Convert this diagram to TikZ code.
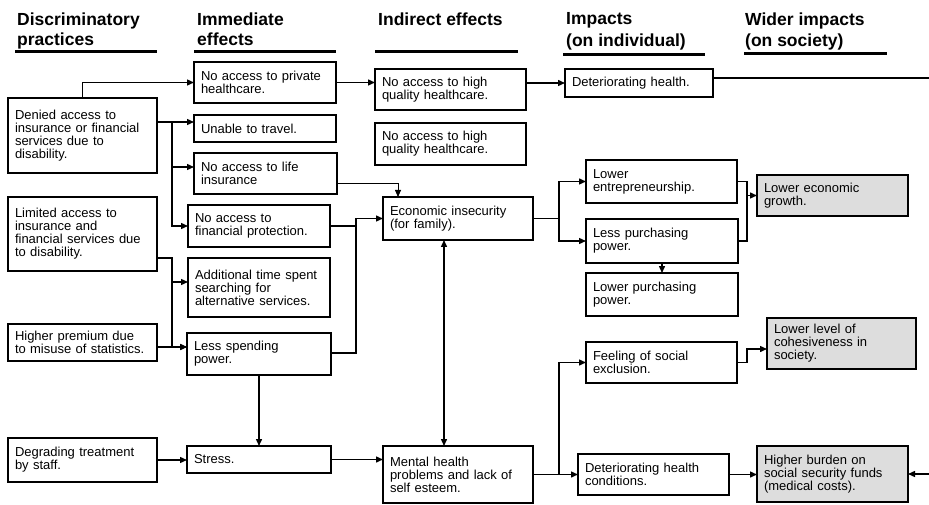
\documentclass[tikz,border=0pt]{standalone}
\usepackage{fontspec}
\setmainfont{Liberation Sans}
\usetikzlibrary{arrows.meta}

\begin{document}
\begin{tikzpicture}[x=1pt,y=-1pt,
  box/.style={draw, line width=1.4pt, anchor=north west, outer sep=0pt,
    inner xsep=7pt, inner ysep=2pt, align=left,
    font=\fontsize{13}{13}\selectfont},
  widerbox/.style={box, fill=gray!27},
  hd/.style={anchor=north west, inner sep=0pt, align=left,
    font=\fontsize{17.5}{20}\selectfont\bfseries},
  headrule/.style={line width=3pt},
  ln/.style={line width=1.4pt},
  arr/.style={line width=1.4pt, -{Triangle[length=7pt,width=6pt]}},
  faintarr/.style={line width=0.8pt, -{Triangle[length=7pt,width=6pt]}},
  dblarr/.style={line width=1.4pt, {Triangle[length=7pt,width=6pt]}-{Triangle[length=7pt,width=6pt]}}]

\useasboundingbox (0,0) rectangle (929,505);

% column headings
\node[hd] (h1) at (17,12.5) {Discriminatory\\practices};
\node[hd] (h2) at (197,12.5) {Immediate\\effects};
\node[hd] (h3) at (378,12.5) {Indirect effects};
\node[hd] (h4) at (566,12.5) {Impacts\\[2pt](on individual)};
\node[hd] (h5) at (745,12.5) {Wider impacts\\[1pt](on society)};
\draw[headrule] (15,52) -- (157,52);
\draw[headrule] (194,52) -- (336,52);
\draw[headrule] (375,52) -- (518,52);
\draw[headrule] (563,55) -- (705,55);
\draw[headrule] (744,54) -- (887,54);

% discriminatory practices
\node[box, text width=135pt, minimum height=75pt] (A) at (8,98)
  {Denied access to\\insurance or financial\\services due to\\disability.};
\node[box, text width=135pt, minimum height=74pt] (B) at (8,197)
  {Limited access to\\insurance and\\financial services due\\to disability.};
\node[box, text width=135pt, minimum height=37pt] (C) at (8,324)
  {Higher premium due\\to misuse of statistics.};
\node[box, text width=135pt, minimum height=44pt] (D) at (8,438)
  {Degrading treatment\\by staff.};

% immediate effects
\node[box, text width=128pt, minimum height=41pt] (E) at (194,62)
  {No access to private\\healthcare.};
\node[box, text width=128pt, minimum height=27pt] (F) at (194,115)
  {Unable to travel.};
\node[box, text width=129pt, minimum height=41pt] (G) at (194,153)
  {No access to life\\insurance};
\node[box, text width=128pt, minimum height=42pt] (H) at (188,205)
  {No access to\\financial protection.};
\node[box, text width=128pt, minimum height=59pt] (I) at (188,258)
  {Additional time spent\\searching for\\alternative services.};
\node[box, text width=130pt, minimum height=42pt] (J) at (187,333)
  {Less spending\\power.};
\node[box, text width=130pt, minimum height=27pt] (K) at (187,446)
  {Stress.};

% indirect effects
\node[box, text width=137pt, minimum height=41pt] (L) at (375,69)
  {No access to high\\quality healthcare.};
\node[box, text width=137pt, minimum height=42pt] (M) at (375,123)
  {No access to high\\quality healthcare.};
\node[box, text width=136pt, minimum height=43pt] (N) at (383,197)
  {Economic insecurity\\(for family).};
\node[box, text width=136pt, minimum height=57pt] (O) at (383,446)
  {Mental health\\problems and lack of\\self esteem.};

% impacts on the individual
\node[box, text width=134pt, minimum height=28pt] (P) at (565,69)
  {Deteriorating health.};
\node[box, text width=137pt, minimum height=43pt] (Q) at (586,160)
  {Lower\\entrepreneurship.};
\node[box, text width=138pt, minimum height=44pt] (R) at (586,219)
  {Less purchasing\\power.};
\node[box, text width=138pt, minimum height=43pt] (S) at (586,273)
  {Lower purchasing\\power.};
\node[box, text width=137pt, minimum height=41pt] (T) at (586,342)
  {Feeling of social\\exclusion.};
\node[box, text width=137pt, minimum height=41pt] (U) at (578,454)
  {Deteriorating health\\conditions.};

% wider impacts on society
\node[widerbox, text width=137pt, minimum height=41pt] (V) at (757,175)
  {Lower economic\\growth.};
\node[widerbox, text width=135pt, minimum height=51pt] (W) at (767,318)
  {Lower level of\\cohesiveness in\\society.};
\node[widerbox, text width=137pt, minimum height=56pt] (X) at (757,446)
  {Higher burden on\\social security funds\\(medical costs).};

% links out of the first column
\draw[arr] (A.north) |- (E.west);
\draw[arr] (A.east |- 0,122) -- (F.west |- 0,122);
\draw[arr] (A.east |- 0,122) -| (172,167) -- (G.west |- 0,167);
\draw[arr] (A.east |- 0,122) -| (172,226) -- (H.west);
\draw[arr] (B.east |- 0,258) -| (172,282) -- (I.west |- 0,282);
\draw[arr] (B.east |- 0,258) -| (172,347) -- (J.west |- 0,347);
\draw[arr] (C.east |- 0,347) -- (J.west |- 0,347);
\draw[arr] (D.east) -- (K.west |- D.east);

% links out of the second column
\draw[arr] (E.east) -- (L.west |- E.east);
\draw[faintarr] (G.east |- 0,183) -| (N.north -| 398,0);
\draw[ln] (H.east) -- (H.east -| 356,0);
\draw[arr] (J.east |- 0,353) -| (N.west -| 356,0) -- (N.west);
\draw[arr] (J.south) -- (K.north);
\draw[arr] (K.east) -- (O.west |- K.east);

% links out of the third column
\draw[arr] (L.east |- P.west) -- (P.west);
\draw[dblarr] (N.south -| 444,0) -- (O.north -| 444,0);
\draw[arr] (N.east) -- (N.east -| 559,0) |- (Q.west);
\draw[arr] (N.east -| 559,0) |- (R.west);
\draw[arr] (O.east) -- (U.west |- O.east);
\draw[arr] (O.east -| 559,0) |- (T.west);

% links into the wider impacts
\draw[arr] (R.south) -- (S.north);
\draw[ln] (Q.east) -| (R.east -| 747,0) -- (R.east);
\draw[arr] (V.west -| 747,0) -- (V.west);
\draw[arr] (T.east) -| (747,349) -- (W.west |- 0,349);
\draw[arr] (U.east) -- (X.west |- U.east);

% the health line leaves the page and comes back into the social security box
\coordinate (edgeA) at (929,78);
\coordinate (edgeB) at (929,474);
\draw[ln] (P.east |- edgeA) -- (edgeA);
\draw[arr] (edgeB) -- (X.east |- edgeB);
\end{tikzpicture}
\end{document}
